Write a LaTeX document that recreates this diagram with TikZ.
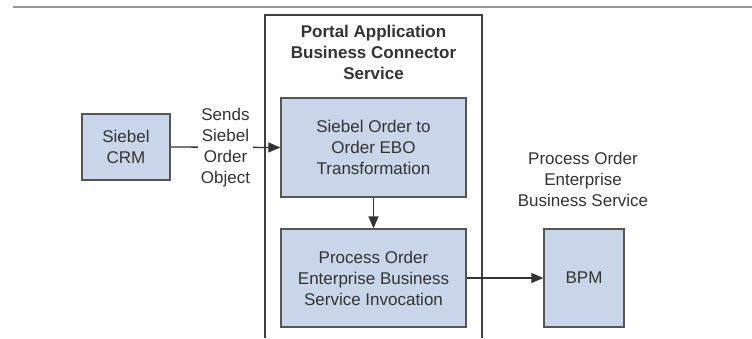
\documentclass[tikz,border=0pt]{standalone}
\usepackage{fontspec}
\setmainfont{Liberation Sans}
\usetikzlibrary{arrows.meta}
\definecolor{boxfill}{HTML}{C9D6EA}
\definecolor{boxline}{HTML}{555555}
\definecolor{txt}{HTML}{333333}
\tikzset{
  procbox/.style={draw=boxline, line width=1.3pt, fill=boxfill, inner sep=0pt, align=center, text=txt, font=\fontsize{17}{21}\selectfont},
  lbl/.style={align=center, text=txt, font=\fontsize{17}{21}\selectfont, inner sep=1pt},
  conn/.style={draw=txt, line width=1.3pt, -{Triangle[length=12pt,width=10pt]}},
}
\begin{document}
\begin{tikzpicture}[x=1pt,y=-1pt]
\useasboundingbox (0,0) rectangle (752,338);
% top rule
\draw[draw=black!40, line width=1.8pt] (13,7) -- (752,7);
% container
\draw[draw=black!75, line width=1.4pt] (265,338) -- (265,15) -- (482,15) -- (482,338);
\node[lbl, font=\bfseries\fontsize{17}{21}\selectfont] (title) at (373.5,52) {Portal Application\\Business Connector\\Service};
% boxes
\node[procbox, minimum width=88pt, minimum height=66pt] (crm) at (126,147) {Siebel\\CRM};
\node[procbox, minimum width=185pt, minimum height=99pt] (xform) at (373.5,147.5) {Siebel Order to\\Order EBO\\Transformation};
\node[procbox, minimum width=185pt, minimum height=98pt] (invoke) at (373.5,278) {Process Order\\Enterprise Business\\Service Invocation};
\node[procbox, minimum width=80pt, minimum height=98pt] (bpm) at (584,278) {BPM};
\node[lbl] (bpmlbl) at (583,179) {Process Order\\Enterprise\\Business Service};
% connectors
\draw[conn] (crm.east) -- node[lbl, fill=white, inner xsep=3pt] (sends) {Sends\\Siebel\\Order\\Object} (xform.west);
\draw[conn] (xform.south) -- (invoke.north);
\draw[conn] (invoke.east) -- (bpm.west);
\end{tikzpicture}
\end{document}
